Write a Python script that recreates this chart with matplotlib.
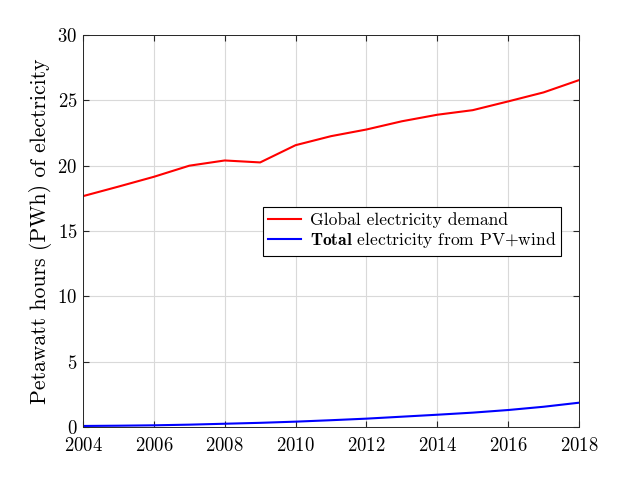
import matplotlib
matplotlib.use('Agg')
import matplotlib.pyplot as plt

years = [2004, 2005, 2006, 2007, 2008, 2009, 2010, 2011, 2012, 2013, 2014, 2015, 2016, 2017, 2018]
demand = [17.67, 18.4, 19.15, 20.0, 20.4, 20.25, 21.57, 22.26, 22.77, 23.4, 23.9, 24.25, 24.92, 25.61, 26.55]
pv_wind = [0.08, 0.1, 0.13, 0.18, 0.25, 0.32, 0.41, 0.52, 0.64, 0.79, 0.94, 1.1, 1.3, 1.55, 1.86]

plt.rcParams['font.family'] = 'serif'
plt.rcParams['font.serif'] = ['cmr10']
plt.rcParams['mathtext.fontset'] = 'cm'
plt.rcParams['axes.formatter.use_mathtext'] = True
plt.rcParams['axes.unicode_minus'] = False

fig = plt.figure(figsize=(6.4, 4.8), dpi=100)
ax = fig.add_axes([0.1297, 0.1104, 0.775, 0.8166])

ax.plot(years, demand, color='red', linewidth=1.5, label='Global electricity demand')
ax.plot(years, pv_wind, color='blue', linewidth=1.5, label=r'$\mathbf{Total}$ electricity from PV+wind')

ax.set_xlim(2004, 2018)
ax.set_ylim(0, 30)
ax.set_xticks(range(2004, 2019, 2))
ax.set_yticks(range(0, 31, 5))
ax.grid(True, color='0.85', linewidth=0.8)
ax.tick_params(direction='in', top=True, right=True, labelsize=13.5, colors='0.15', labelcolor='black', length=4)
ax.tick_params(axis='x', pad=7)
ax.tick_params(axis='y', pad=4)
for s in ax.spines.values():
    s.set_color('0.15')
    s.set_linewidth(0.7)
ax.set_ylabel('Petawatt hours (PWh) of electricity', fontsize=15.6, labelpad=4)

leg = ax.legend(loc='upper left', bbox_to_anchor=(0.362, 0.562), fontsize=12.6, fancybox=False,
                edgecolor='black', framealpha=1, borderaxespad=0, handlelength=1.9,
                borderpad=0.3, labelspacing=0.15, handletextpad=0.5)
leg.get_frame().set_linewidth(0.8)

fig.savefig('out.png', dpi=100)
